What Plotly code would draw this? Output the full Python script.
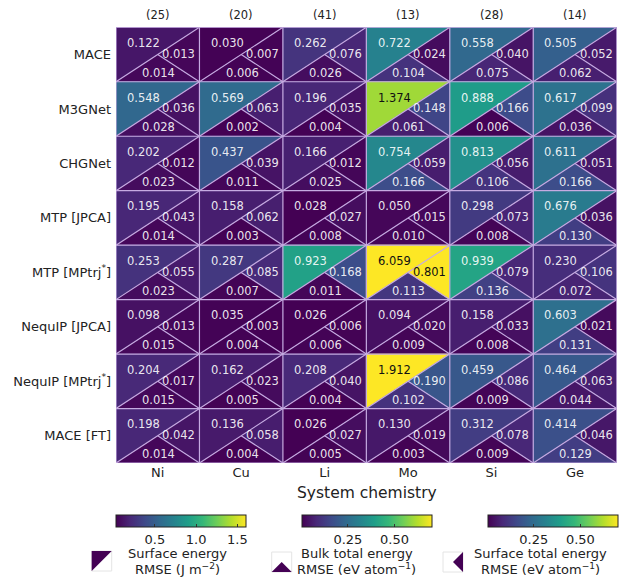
import plotly.graph_objects as go
from plotly.colors import sample_colorscale

# ---------------- data ----------------
elements = ["Ni", "Cu", "Li", "Mo", "Si", "Ge"]
counts = ["(25)", "(20)", "(41)", "(13)", "(28)", "(14)"]
models = ["MACE", "M3GNet", "CHGNet", "MTP [JPCA]", "MTP [MPtrj<sup>*</sup>]",
          "NequIP [JPCA]", "NequIP [MPtrj<sup>*</sup>]", "MACE [FT]"]

surface_energy = [
    [0.122, 0.030, 0.262, 0.722, 0.558, 0.505],
    [0.548, 0.569, 0.196, 1.374, 0.888, 0.617],
    [0.202, 0.437, 0.166, 0.754, 0.813, 0.611],
    [0.195, 0.158, 0.028, 0.050, 0.298, 0.676],
    [0.253, 0.287, 0.923, 6.059, 0.939, 0.230],
    [0.098, 0.035, 0.026, 0.094, 0.158, 0.603],
    [0.204, 0.162, 0.208, 1.912, 0.459, 0.464],
    [0.198, 0.136, 0.026, 0.130, 0.312, 0.414],
]
surface_total = [
    [0.013, 0.007, 0.076, 0.024, 0.040, 0.052],
    [0.036, 0.063, 0.035, 0.148, 0.166, 0.099],
    [0.012, 0.039, 0.012, 0.059, 0.056, 0.051],
    [0.043, 0.062, 0.027, 0.015, 0.073, 0.036],
    [0.055, 0.085, 0.168, 0.801, 0.079, 0.106],
    [0.013, 0.003, 0.006, 0.020, 0.033, 0.021],
    [0.017, 0.023, 0.040, 0.190, 0.086, 0.063],
    [0.042, 0.058, 0.027, 0.019, 0.078, 0.046],
]
bulk_total = [
    [0.014, 0.006, 0.026, 0.104, 0.075, 0.062],
    [0.028, 0.002, 0.004, 0.061, 0.006, 0.036],
    [0.023, 0.011, 0.025, 0.166, 0.106, 0.166],
    [0.014, 0.003, 0.008, 0.010, 0.008, 0.130],
    [0.023, 0.007, 0.011, 0.113, 0.136, 0.072],
    [0.015, 0.004, 0.006, 0.009, 0.008, 0.131],
    [0.015, 0.005, 0.004, 0.102, 0.009, 0.044],
    [0.014, 0.004, 0.005, 0.003, 0.009, 0.129],
]

se_range = (0.026, 1.6)
bulk_range = (0.002, 0.7)
st_range = (0.003, 0.7)
se_ticks = [0.5, 1.0, 1.5]
bulk_ticks = [0.25, 0.50]
st_ticks = [0.25, 0.50]

FONT = "DejaVu Sans"
W, H = 623, 580
LINE_COL = "#c6abe2"


def norm(v, rng):
    lo, hi = rng
    return min(max((v - lo) / (hi - lo), 0.0), 1.0)


def px(x):
    return x / W


def py(y):
    return 1 - y / H


fig = go.Figure()
annotations = []

nrows, ncols = len(models), len(elements)
for j in range(nrows):
    for i in range(ncols):
        TL, TR = (i, j), (i + 1, j)
        BL, BR = (i, j + 1), (i + 1, j + 1)
        C = (i + 0.5, j + 0.5)
        parts = [
            ([TL, TR, BL], surface_energy[j][i], se_range),
            ([BL, BR, C], bulk_total[j][i], bulk_range),
            ([C, TR, BR], surface_total[j][i], st_range),
        ]
        for pts, v, rng in parts:
            t = norm(v, rng)
            col = sample_colorscale("Viridis", [t])[0]
            fig.add_trace(go.Scatter(
                x=[p[0] for p in pts] + [pts[0][0]],
                y=[p[1] for p in pts] + [pts[0][1]],
                mode="lines", fill="toself", fillcolor=col,
                line=dict(width=0.6, color=col),
                hoverinfo="skip", showlegend=False))
        # texts
        specs = [
            (surface_energy[j][i], se_range, i + 0.11, j + 0.29, "left"),
            (surface_total[j][i], st_range, i + 0.975, j + 0.49, "right"),
            (bulk_total[j][i], bulk_range, i + 0.51, j + 0.835, "center"),
        ]
        for v, rng, x, y, anc in specs:
            t = norm(v, rng)
            tc = "#111111" if t > 0.7 else "rgba(255,255,255,0.9)"
            annotations.append(dict(
                x=x, y=y, xref="x", yref="y", text=f"{v:.3f}",
                xanchor=anc, yanchor="middle", showarrow=False,
                font=dict(family=FONT, size=11.5, color=tc)))

# grid lines
lx, ly = [], []
for j in range(nrows + 1):
    lx += [0, ncols, None]
    ly += [j, j, None]
for i in range(ncols + 1):
    lx += [i, i, None]
    ly += [0, nrows, None]
for j in range(nrows):
    for i in range(ncols):
        lx += [i, i + 1, None, i + 0.5, i + 1, None]
        ly += [j + 1, j, None, j + 0.5, j + 1, None]
fig.add_trace(go.Scatter(x=lx, y=ly, mode="lines",
                         line=dict(color=LINE_COL, width=1.2),
                         hoverinfo="skip", showlegend=False))

# counts on top
for i, c in enumerate(counts):
    annotations.append(dict(x=i + 0.5, y=py(15), xref="x", yref="paper",
                            text=c, showarrow=False, xanchor="center",
                            yanchor="middle",
                            font=dict(family=FONT, size=11.5, color="#222")))

annotations.append(dict(x=px(366.5), y=py(493), xref="paper", yref="paper",
                        text="System chemistry", showarrow=False,
                        xanchor="center", yanchor="middle",
                        font=dict(family=FONT, size=15.5, color="#222")))

# colorbars
cbars = [
    (se_range, se_ticks, ["0.5", "1.0", "1.5"], 180.7),
    (bulk_range, bulk_ticks, ["0.25", "0.50"], 366.7),
    (st_range, st_ticks, ["0.25", "0.50"], 552.7),
]
for rng, tv, tt, cx in cbars:
    fig.add_trace(go.Scatter(
        x=[None], y=[None], mode="markers", hoverinfo="skip", showlegend=False,
        marker=dict(color=[rng[0]], colorscale="Viridis", cmin=rng[0],
                    cmax=rng[1], showscale=True,
                    colorbar=dict(orientation="h", x=px(cx), xanchor="center",
                                  y=py(514.5), yanchor="top",
                                  len=130, lenmode="pixels", thickness=12,
                                  outlinecolor="#222", outlinewidth=1,
                                  tickvals=tv, ticktext=tt, ticks="inside",
                                  ticklen=3, tickcolor="#333",
                                  tickfont=dict(family=FONT, size=13, color="#222"),
                                  xpad=0, ypad=0))))

# legend glyphs
shapes = []
dark = sample_colorscale("Viridis", [0.0])[0]
boxes = [(91.7, 551, 111.7, 571), (271.7, 552, 291.7, 572), (443, 552, 463, 572)]
for (x0, y0, x1, y1) in boxes:
    shapes.append(dict(type="rect", xref="paper", yref="paper",
                       x0=px(x0), x1=px(x1), y0=py(y1), y1=py(y0),
                       line=dict(color="#e4e4e4", width=1)))


def tri(points):
    d = "M " + " L ".join(f"{px(a)},{py(b)}" for a, b in points) + " Z"
    return dict(type="path", xref="paper", yref="paper", path=d,
                fillcolor=dark, line=dict(width=0))


x0, y0, x1, y1 = boxes[0]
shapes.append(tri([(x0, y0), (x1, y0), (x0, y1)]))
x0, y0, x1, y1 = boxes[1]
shapes.append(tri([(x0, y1), (x1, y1), ((x0 + x1) / 2, (y0 + y1) / 2)]))
x0, y0, x1, y1 = boxes[2]
shapes.append(tri([((x0 + x1) / 2, (y0 + y1) / 2), (x1, y0), (x1, y1)]))

legend_texts = [
    (177.3, "Surface energy", "RMSE (J m<sup>−2</sup>)"),
    (356.7, "Bulk total energy", "RMSE (eV atom<sup>−1</sup>)"),
    (540.0, "Surface total energy", "RMSE (eV atom<sup>−1</sup>)"),
]
for cx, l1, l2 in legend_texts:
    annotations.append(dict(x=px(cx), y=py(553.5), xref="paper", yref="paper",
                            text=l1, showarrow=False, xanchor="center",
                            yanchor="middle",
                            font=dict(family=FONT, size=13, color="#222")))
    annotations.append(dict(x=px(cx), y=py(568.5), xref="paper", yref="paper",
                            text=l2, showarrow=False, xanchor="center",
                            yanchor="middle",
                            font=dict(family=FONT, size=13, color="#222")))

fig.update_layout(
    width=W, height=H, margin=dict(l=0, r=0, t=0, b=0),
    plot_bgcolor="white", paper_bgcolor="white",
    font=dict(family=FONT, color="#222"),
    xaxis=dict(range=[0, ncols], domain=[px(116), px(616.7)],
               tickvals=[i + 0.5 for i in range(ncols)], ticktext=elements,
               showgrid=False, zeroline=False, showline=False, ticks="",
               tickfont=dict(family=FONT, size=13, color="#222"),
               fixedrange=True),
    yaxis=dict(range=[nrows, 0], domain=[py(463), py(27.3)],
               tickvals=[j + 0.5 for j in range(nrows)], ticktext=models,
               showgrid=False, zeroline=False, showline=False, ticks="",
               ticklabelstandoff=4,
               tickfont=dict(family=FONT, size=13, color="#222"),
               fixedrange=True),
    annotations=annotations, shapes=shapes,
)

fig.write_html("out.html",
               config={"displayModeBar": False},
               post_script="document.body.style.margin='0px';"
                           "document.body.style.overflow='hidden';")
